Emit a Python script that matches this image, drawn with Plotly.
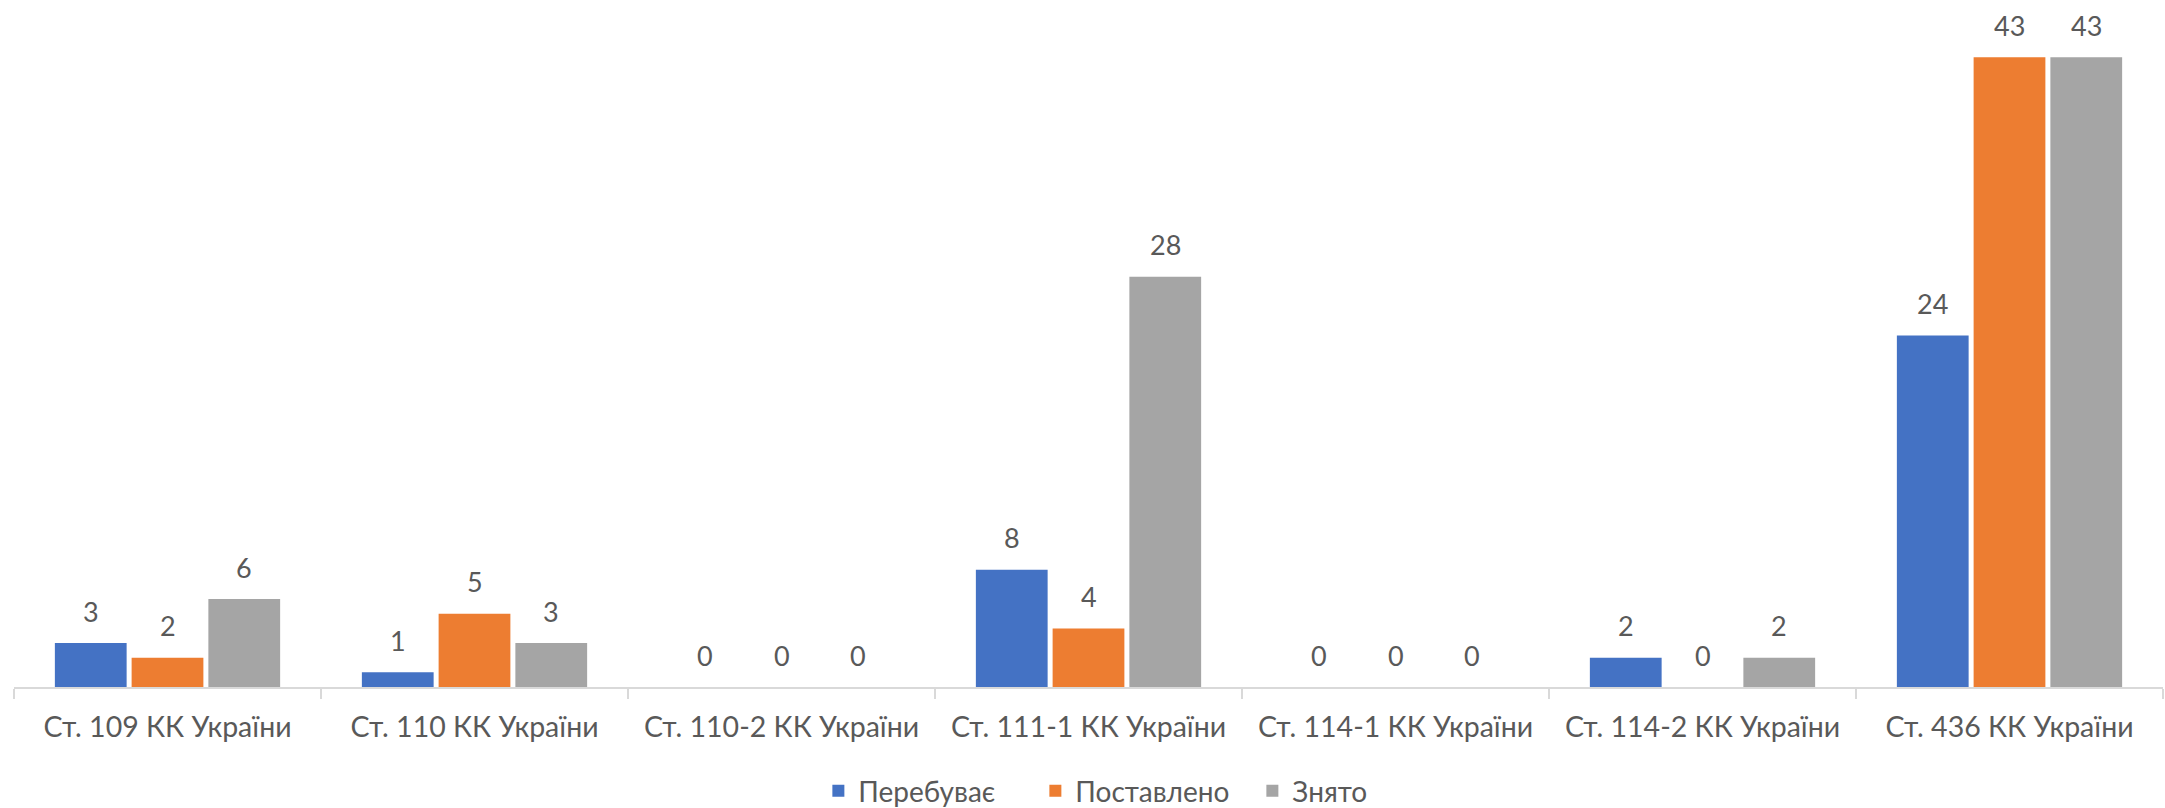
import plotly.graph_objects as go

categories = ["Ст. 109 КК України", "Ст. 110 КК України", "Ст. 110-2 КК України",
              "Ст. 111-1 КК України", "Ст. 114-1 КК України", "Ст. 114-2 КК України",
              "Ст. 436 КК України"]
series_names = ["Перебуває", "Поставлено", "Знято"]
perebuvaie = [3, 1, 0, 8, 0, 2, 24]
postavleno = [2, 5, 0, 4, 0, 0, 43]
zniato = [6, 3, 0, 28, 0, 2, 43]
colors = ["#4472C4", "#ED7D31", "#A5A5A5"]

FONT = "Lato, Carlito, 'Liberation Sans', sans-serif"
TXT = "#595959"
BARGAP = 0.25
GROUPGAP = 0.065

fig = go.Figure()
all_vals = [perebuvaie, postavleno, zniato]
for name, vals, col in zip(series_names, all_vals, colors):
    fig.add_trace(go.Bar(
        name=name, x=categories, y=vals,
        marker=dict(color=col, line=dict(width=0)),
        hoverinfo="skip",
    ))

# data labels placed above each bar
n = len(all_vals)
slot = (1 - BARGAP) / n
for k, vals in enumerate(all_vals):
    for i, v in enumerate(vals):
        fig.add_annotation(
            x=i + (k - (n - 1) / 2) * slot, y=v, xref="x", yref="y",
            text=str(v), showarrow=False, yanchor="middle", yshift=32,
            font=dict(family=FONT, size=27, color=TXT),
        )

fig.update_layout(
    width=2165, height=808,
    barmode="group", bargap=BARGAP, bargroupgap=GROUPGAP,
    plot_bgcolor="white", paper_bgcolor="white",
    margin=dict(l=14, r=2, t=0, b=121),
    font=dict(family=FONT, size=28, color=TXT),
    showlegend=True,
    legend=dict(orientation="h", xref="container", yref="container",
                x=0.378, xanchor="left", y=0.021, yanchor="middle",
                font=dict(family=FONT, size=28, color=TXT), itemwidth=30,
                entrywidth=172, tracegroupgap=0),
    xaxis=dict(type="category", showline=True, linecolor="#D9D9D9", linewidth=1.5,
               ticks="outside", tickson="boundaries", ticklen=10, tickcolor="#D9D9D9",
               tickwidth=1.5, showgrid=False, ticklabelstandoff=14, automargin=False,
               tickfont=dict(family=FONT, size=28.5, color=TXT)),
    yaxis=dict(range=[0, 46.9], visible=False, showgrid=False, zeroline=False),
)

fig.write_html("out.html", config={"displayModeBar": False},
               post_script="document.body.style.margin='0';document.body.style.overflow='hidden';")
